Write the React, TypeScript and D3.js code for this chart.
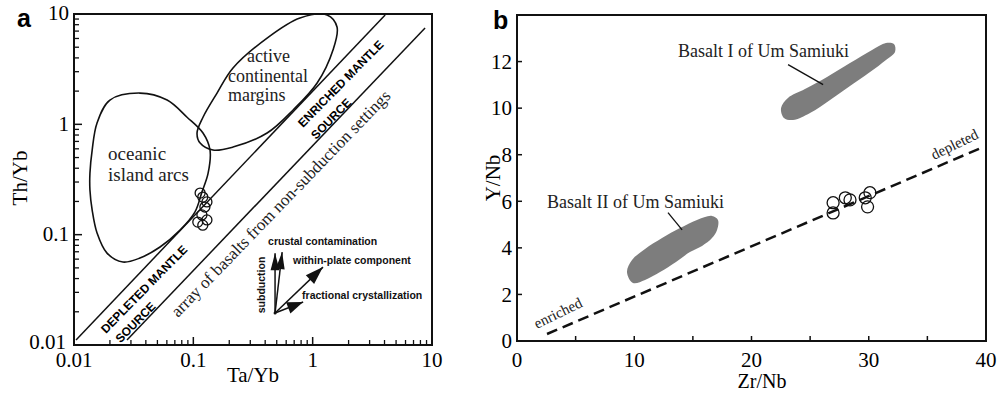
import * as d3 from 'd3';

// ---- panel a: Th/Yb vs Ta/Yb (log-log) ----
const logMajor = [0.01, 0.1, 1, 10];
const logMajorLabels = ['0.01', '0.1', '1', '10'];
const logMinor = [0.01, 0.1, 1].flatMap(d => [2, 3, 4, 5, 6, 7, 8, 9].map(k => d * k));

const samplesA: [number, number][] = [
  [0.114, 0.238], [0.12, 0.219], [0.13, 0.198], [0.125, 0.178],
  [0.118, 0.151], [0.109, 0.13], [0.12, 0.122], [0.13, 0.136],
];

const oceanicArcs: [number, number][] = [
  [0.0357, 1.92], [0.0603, 1.66], [0.0886, 1.16], [0.1205, 0.834], [0.138, 0.585],
  [0.133, 0.361], [0.118, 0.243], [0.103, 0.16], [0.0774, 0.11], [0.0526, 0.0773],
  [0.0357, 0.0614], [0.0257, 0.0565], [0.0189, 0.068], [0.0156, 0.1035], [0.0142, 0.167],
  [0.0136, 0.254], [0.0136, 0.361], [0.0142, 0.585], [0.0156, 1.03], [0.02, 1.66],
];

const continentalMargins: [number, number][] = [
  [0.1074, 0.834], [0.1205, 1.16], [0.158, 1.92], [0.215, 3.24], [0.415, 6.05],
  [0.783, 9.2], [1.32, 9.8], [1.6, 7.62], [1.48, 4.72], [1.09, 2.37],
  [0.686, 1.35], [0.415, 0.834], [0.215, 0.622], [0.146, 0.585], [0.114, 0.676],
];

const mantleUpper: [number, number][] = [[0.0104, 0.0111], [4.05, 9.8]];
const mantleLower: [number, number][] = [[0.0278, 0.0111], [8.75, 7.47]];

const vectorOrigin: [number, number] = [0.484, 0.0195];
const vectors = [
  { name: 'subduction', tip: [0.484, 0.068], len: 17, half: 4.5 },
  { name: 'crustal', tip: [0.555, 0.0695], len: 17, half: 4.5 },
  { name: 'within-plate', tip: [1.22, 0.0508], len: 18, half: 6 },
  { name: 'fractional', tip: [0.832, 0.0245], len: 16, half: 6 },
];

// ---- panel b: Y/Nb vs Zr/Nb ----
const zrTicks = [0, 10, 20, 30, 40];
const zrMinor = [5, 15, 25, 35];
const yTicks = [0, 2, 4, 6, 8, 10, 12];

const samplesB: [number, number][] = [
  [26.96, 5.94], [26.96, 5.5], [28.0, 6.15], [28.4, 6.06],
  [29.7, 6.15], [29.9, 5.76], [30.1, 6.37],
];

const trend: [number, number][] = [[2.56, 0.3], [39.8, 8.34]];

const basaltI: [number, number][] = [
  [22.52, 10.01], [23.11, 10.44], [24.56, 10.82], [26.44, 11.34], [28.4, 11.94],
  [30.28, 12.5], [31.47, 12.8], [32.15, 12.75], [32.24, 12.41], [31.47, 12.07],
  [30.11, 11.55], [28.4, 10.95], [26.7, 10.35], [24.99, 9.79], [23.54, 9.49], [22.77, 9.58],
];

const basaltII: [number, number][] = [
  [9.38, 2.96], [9.81, 3.48], [10.92, 3.95], [12.37, 4.42], [13.9, 4.85],
  [15.35, 5.2], [16.63, 5.37], [17.14, 5.2], [17.06, 4.77], [16.63, 4.42],
  [15.78, 4.08], [14.75, 3.82], [13.56, 3.39], [12.2, 2.96], [10.92, 2.62], [9.89, 2.49],
];

const serif = "'Liberation Serif', 'DejaVu Serif', serif";
const sans = "'Liberation Sans', Arial, sans-serif";

function arrowHead(x1: number, y1: number, x2: number, y2: number, len: number, half: number) {
  const a = Math.atan2(y2 - y1, x2 - x1);
  const bx = x2 - len * Math.cos(a);
  const by = y2 - len * Math.sin(a);
  const px = -Math.sin(a) * half;
  const py = Math.cos(a) * half;
  return `M${x2},${y2}L${bx + px},${by + py}L${bx - px},${by - py}Z`;
}

export default function App() {
  const xA = d3.scaleLog().domain([0.01, 10]).range([74, 432]);
  const yA = d3.scaleLog().domain([0.01, 10]).range([345, 14]);
  const xB = d3.scaleLinear().domain([0, 40]).range([517, 986]);
  const yB = d3.scaleLinear().domain([0, 14]).range([341, 15]);

  const closedA = d3.line<[number, number]>()
    .x(d => xA(d[0])).y(d => yA(d[1]))
    .curve(d3.curveCatmullRomClosed.alpha(0.5));
  const closedB = d3.line<[number, number]>()
    .x(d => xB(d[0])).y(d => yB(d[1]))
    .curve(d3.curveCatmullRomClosed.alpha(0.5));
  const straightA = d3.line<[number, number]>().x(d => xA(d[0])).y(d => yA(d[1]));
  const straightB = d3.line<[number, number]>().x(d => xB(d[0])).y(d => yB(d[1]));

  const ox = xA(vectorOrigin[0]);
  const oy = yA(vectorOrigin[1]);

  const rot = (x: number, y: number, a: number) => `translate(${x},${y}) rotate(${a})`;

  return (
    <svg width={1008} height={393} style={{ position: 'absolute', left: 0, top: 0, background: '#fff' }}>
      {/* ===== panel a ===== */}
      <text x={17} y={27} fontFamily={sans} fontWeight="bold" fontSize={25}>a</text>
      <rect x={74} y={14} width={358} height={331} fill="none" stroke="#111" strokeWidth={2} />

      {logMajor.map((t, i) => (
        <g key={'ax' + i}>
          <line x1={xA(t)} x2={xA(t)} y1={345} y2={337} stroke="#111" strokeWidth={1.5} />
          <text x={xA(t)} y={367} textAnchor="middle" fontFamily={serif} fontSize={21}>{logMajorLabels[i]}</text>
          <line x1={74} x2={82} y1={yA(t)} y2={yA(t)} stroke="#111" strokeWidth={1.5} />
          <text x={i === 0 ? 66 : 69} y={yA(t)} dy={i === 0 ? '0.2em' : '0.3em'} textAnchor="end" fontFamily={serif} fontSize={21}>{logMajorLabels[i]}</text>
        </g>
      ))}
      {logMinor.map((t, i) => (
        <g key={'am' + i}>
          <line x1={xA(t)} x2={xA(t)} y1={345} y2={340} stroke="#111" strokeWidth={1.3} />
          <line x1={74} x2={79} y1={yA(t)} y2={yA(t)} stroke="#111" strokeWidth={1.3} />
        </g>
      ))}
      <text x={253} y={382} textAnchor="middle" fontFamily={serif} fontSize={21}>Ta/Yb</text>
      <text transform={rot(27, 178, -90)} textAnchor="middle" fontFamily={serif} fontSize={21}>Th/Yb</text>

      <path d={closedA(oceanicArcs) || ''} fill="none" stroke="#111" strokeWidth={1.6} />
      <path d={closedA(continentalMargins) || ''} fill="none" stroke="#111" strokeWidth={1.6} />
      <path d={straightA(mantleUpper) || ''} fill="none" stroke="#111" strokeWidth={1.5} />
      <path d={straightA(mantleLower) || ''} fill="none" stroke="#111" strokeWidth={1.5} />

      <text fontFamily={serif} fontSize={19} fill="#222">
        <tspan x={xA(0.0193)} y={yA(0.475)}>oceanic</tspan>
        <tspan x={xA(0.0193)} y={yA(0.306)}>island arcs</tspan>
      </text>
      <text fontFamily={serif} fontSize={18} fill="#222">
        <tspan x={xA(0.282)} y={yA(3.67)}>active</tspan>
        <tspan x={xA(0.195)} y={yA(2.42)}>continental</tspan>
        <tspan x={xA(0.195)} y={yA(1.63)}>margins</tspan>
      </text>

      <text transform={rot(xA(0.0185), yA(0.0126), -45.5)} fontFamily={sans} fontWeight="bold" fontSize={12}>DEPLETED MANTLE</text>
      <text transform={rot(xA(0.0245), yA(0.0103), -45.5)} fontFamily={sans} fontWeight="bold" fontSize={12}>SOURCE</text>
      <text transform={rot(xA(0.83), yA(0.927), -45.5)} fontFamily={sans} fontWeight="bold" fontSize={12}>ENRICHED MANTLE</text>
      <text transform={rot(xA(1.067), yA(0.721), -45.5)} fontFamily={sans} fontWeight="bold" fontSize={12}>SOURCE</text>
      <text transform={rot(xA(0.0744), yA(0.0176), -46)} fontFamily={serif} fontSize={17} fill="#222">array of basalts from non-subduction settings</text>

      {samplesA.map((d, i) => (
        <circle key={'sa' + i} cx={xA(d[0])} cy={yA(d[1])} r={5} fill="none" stroke="#111" strokeWidth={1.3} />
      ))}

      {vectors.map((v, i) => {
        const tx = xA(v.tip[0]);
        const ty = yA(v.tip[1]);
        return (
          <g key={'v' + i}>
            <line x1={ox} y1={oy} x2={tx} y2={ty} stroke="#111" strokeWidth={1.5} />
            <path d={arrowHead(ox, oy, tx, ty, v.len, v.half)} fill="#111" />
          </g>
        );
      })}
      <circle cx={ox} cy={oy} r={1.5} fill="#111" />
      <g fontFamily={sans} fontWeight="bold" fontSize={10.5} fill="#111">
        <text x={xA(0.423)} y={yA(0.0806)}>crustal contamination</text>
        <text x={xA(0.684)} y={yA(0.0542)}>within-plate component</text>
        <text x={xA(0.815)} y={yA(0.0261)}>fractional crystallization</text>
        <text transform={rot(xA(0.399), yA(0.035), -90)} textAnchor="middle">subduction</text>
      </g>

      {/* ===== panel b ===== */}
      <text x={493} y={29} fontFamily={sans} fontWeight="bold" fontSize={25}>b</text>
      <rect x={517} y={15} width={469} height={326} fill="none" stroke="#111" strokeWidth={2} />

      {zrTicks.map((t, i) => (
        <g key={'bx' + i}>
          {i > 0 && i < zrTicks.length - 1 && (
            <line x1={xB(t)} x2={xB(t)} y1={341} y2={336} stroke="#111" strokeWidth={1.5} />
          )}
          <text x={xB(t)} y={367} textAnchor="middle" fontFamily={serif} fontSize={21}>{t}</text>
        </g>
      ))}
      {zrMinor.map((t, i) => (
        <line key={'bxm' + i} x1={xB(t)} x2={xB(t)} y1={341} y2={336} stroke="#111" strokeWidth={1.5} />
      ))}
      {yTicks.map((t, i) => (
        <g key={'by' + i}>
          <line x1={517} x2={522} y1={yB(t)} y2={yB(t)} stroke="#111" strokeWidth={1.5} />
          <text x={512} y={yB(t)} dy="0.35em" textAnchor="end" fontFamily={serif} fontSize={21}>{t}</text>
        </g>
      ))}
      <text x={762} y={388} textAnchor="middle" fontFamily={serif} fontSize={20}>Zr/Nb</text>
      <text transform={rot(500, 178, -90)} textAnchor="middle" fontFamily={serif} fontSize={21}>Y/Nb</text>

      <path d={closedB(basaltI) || ''} fill="#7d7d7d" />
      <path d={closedB(basaltII) || ''} fill="#7d7d7d" />
      <path d={straightB([[23.12, 11.87], [26.11, 11.01]]) || ''} stroke="#111" strokeWidth={1.3} />
      <path d={straightB([[12.88, 5.51], [14.08, 4.77]]) || ''} stroke="#111" strokeWidth={1.3} />
      <text x={xB(13.73)} y={yB(12.2)} fontFamily={serif} fontSize={18} fill="#222">Basalt I of Um Samiuki</text>
      <text x={xB(2.56)} y={yB(5.71)} fontFamily={serif} fontSize={18} fill="#222">Basalt II of Um Samiuki</text>

      <path d={straightB(trend) || ''} fill="none" stroke="#111" strokeWidth={2.5} strokeDasharray="11,6" />
      <text transform={rot(xB(1.71), yB(0.52), -26)} fontFamily={serif} fontSize={15} fill="#222">enriched</text>
      <text transform={rot(xB(35.56), yB(7.77), -26)} fontFamily={serif} fontSize={15} fill="#222">depleted</text>

      {samplesB.map((d, i) => (
        <circle key={'sb' + i} cx={xB(d[0])} cy={yB(d[1])} r={6} fill="none" stroke="#111" strokeWidth={1.3} />
      ))}
    </svg>
  );
}
